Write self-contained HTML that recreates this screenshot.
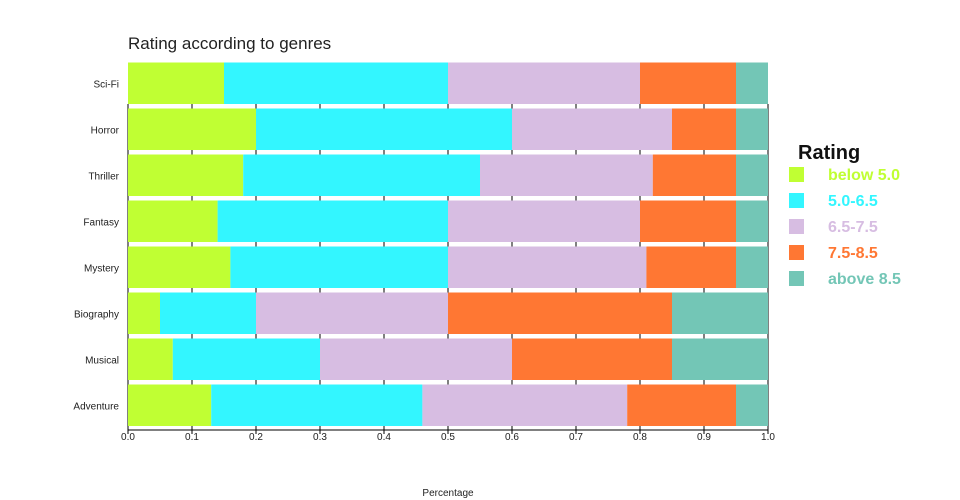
<!DOCTYPE html>
<html><head><meta charset="utf-8"><style>body{margin:0;background:#fff}svg{display:block}text{font-family:"Liberation Sans","DejaVu Sans",sans-serif}</style></head><body>
<svg width="960" height="500" xmlns="http://www.w3.org/2000/svg">
<text x="128" y="49" font-size="17" fill="#222">Rating according to genres</text>
<g id="grid" stroke="#000" stroke-width="1"></g>
<g id="bars"></g>
<g id="labels" font-size="10" fill="#222" text-anchor="end"></g>
<g id="ticks" font-size="10" fill="#222" text-anchor="middle"></g>
<line x1="128" y1="430" x2="768" y2="430" stroke="#000"/>
<text x="448" y="496" font-size="10" fill="#222" text-anchor="middle">Percentage</text>
<text x="798" y="159" font-size="20" font-weight="bold" fill="#111">Rating</text>
<g font-size="16" font-weight="bold">
<rect x="789" y="167" width="15" height="15" fill="#c0ff33"/><text x="828" y="180" fill="#c0ff33">below 5.0</text>
<rect x="789" y="193" width="15" height="15" fill="#33f6ff"/><text x="828" y="206" fill="#33f6ff">5.0-6.5</text>
<rect x="789" y="219" width="15" height="15" fill="#d7bde2"/><text x="828" y="232" fill="#d7bde2">6.5-7.5</text>
<rect x="789" y="245" width="15" height="15" fill="#ff7733"/><text x="828" y="258" fill="#ff7733">7.5-8.5</text>
<rect x="789" y="271" width="15" height="15" fill="#73c6b6"/><text x="828" y="284" fill="#73c6b6">above 8.5</text>
</g>
</svg>
<script>
const d=[["Sci-Fi",[.15,.5,.8,.95]],["Horror",[.2,.6,.85,.95]],["Thriller",[.18,.55,.82,.95]],["Fantasy",[.14,.5,.8,.95]],["Mystery",[.16,.5,.81,.95]],["Biography",[.05,.2,.5,.85]],["Musical",[.07,.3,.6,.85]],["Adventure",[.13,.46,.78,.95]]];
const c=["#c0ff33","#33f6ff","#d7bde2","#ff7733","#73c6b6"];
const ns="http://www.w3.org/2000/svg";
function el(p,t,a,txt){const e=document.createElementNS(ns,t);for(const k in a)e.setAttribute(k,a[k]);if(txt)e.textContent=txt;document.getElementById(p).appendChild(e);}
for(let i=0;i<=10;i++){const x=128+64*i;el("grid","line",{x1:x,y1:104,x2:x,y2:434});el("ticks","text",{x:x,y:440},(i/10).toFixed(1));}
d.forEach((r,i)=>{const y=62.5+46*i;const v=[0,...r[1],1];for(let j=0;j<5;j++){el("bars","rect",{x:128+640*v[j],y:y,width:640*(v[j+1]-v[j]),height:41.5,fill:c[j]});}
el("labels","text",{x:119,y:y+25},r[0]);});
</script>
</body></html>
